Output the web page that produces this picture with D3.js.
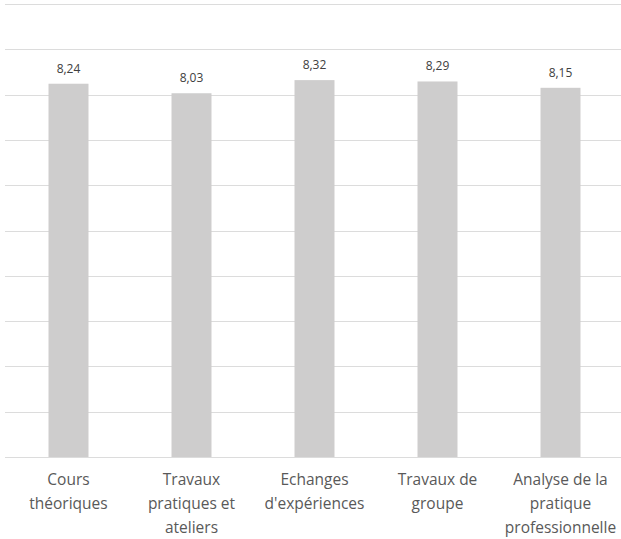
<!DOCTYPE html>
<html>
<head>
<meta charset="utf-8">
<script src="https://cdn.jsdelivr.net/npm/d3@7"></script>
<style>
  body { margin: 0; background: #fff; }
  svg { display: block; }
</style>
</head>
<body>
<div class="visHolder"></div>
<script>
// chart data
var categories = [
    ["Cours", "théoriques"],
    ["Travaux", "pratiques et", "ateliers"],
    ["Echanges", "d'expériences"],
    ["Travaux de", "groupe"],
    ["Analyse de la", "pratique", "professionnelle"]
];
var values = [8.24, 8.03, 8.32, 8.29, 8.15];
var valueLabels = ["8,24", "8,03", "8,32", "8,29", "8,15"];

var width = 621, height = 539;

var svg = d3.select(".visHolder")
    .append("svg")
    .attr("width", width)
    .attr("height", height)
    .style("font-family", "'Open Sans', sans-serif");

var x = d3.scaleBand()
    .domain(d3.range(values.length))
    .range([7, 622])
    .paddingInner(0.675)
    .paddingOuter(0.3375);

var y = d3.scaleLinear().domain([0, 10]).range([457, 4]);

// gridlines
svg.append("g")
    .selectAll("line")
    .data(y.ticks(10))
    .enter()
    .append("line")
    .attr("x1", 5)
    .attr("x2", 621)
    .attr("y1", (d) => Math.round(y(d)) + 0.5)
    .attr("y2", (d) => Math.round(y(d)) + 0.5)
    .style("stroke", "#dcdcdc")
    .style("stroke-width", 1);

// bars
svg.selectAll(".bar")
    .data(values)
    .enter()
    .append("rect")
    .attr("class", "bar")
    .attr("x", (d, i) => x(i))
    .attr("y", (d) => y(d))
    .attr("width", x.bandwidth())
    .attr("height", (d) => y(0) - y(d))
    .style("fill", "#cecdcd");

// value labels
svg.selectAll(".val")
    .data(values)
    .enter()
    .append("text")
    .attr("class", "val")
    .attr("x", (d, i) => x(i) + x.bandwidth() / 2)
    .attr("y", (d) => y(d) - 11)
    .attr("text-anchor", "middle")
    .style("font-size", "12px")
    .style("fill", "#404040")
    .text((d, i) => valueLabels[i]);

// category labels
var cat = svg.selectAll(".cat")
    .data(categories)
    .enter()
    .append("text")
    .attr("class", "cat")
    .attr("text-anchor", "middle")
    .style("font-size", "15.5px")
    .style("fill", "#595959");

cat.selectAll("tspan")
    .data((d, i) => d.map((t) => ({ t: t, i: i })))
    .enter()
    .append("tspan")
    .attr("x", (d) => x(d.i) + x.bandwidth() / 2)
    .attr("y", (d, j) => 485 + j * 24)
    .text((d) => d.t);
</script>
</body>
</html>
